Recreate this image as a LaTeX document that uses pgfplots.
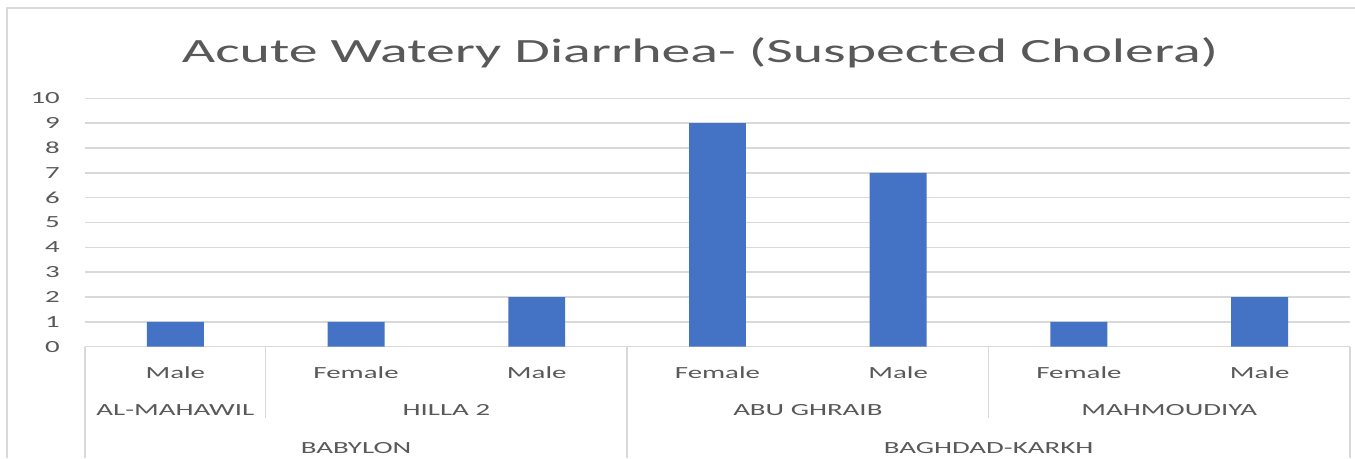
\documentclass[border=0pt]{standalone}
\usepackage{fontspec}
\setmainfont{Carlito}[FakeStretch=1.7]
\usepackage{pgfplots}
\pgfplotsset{compat=1.18}
\definecolor{txt}{HTML}{595959}
\definecolor{gridc}{HTML}{D9D9D9}
\definecolor{barc}{HTML}{4472C4}
\begin{document}
\begin{tikzpicture}
\useasboundingbox (0,0) rectangle (1355pt,458pt);
\fill[white] (0,0) rectangle (1355pt,458pt);
\draw[gridc, line width=2pt] (7pt,0) -- (7pt,450pt) -- (1355pt,450pt);
\node[anchor=base, text=txt, font=\fontsize{34}{40}\selectfont] at (700pt,395pt) {Acute Watery Diarrhea- (Suspected Cholera)};
\begin{axis}[
  at={(85pt,111.3pt)}, anchor=south west,
  scale only axis, width=1265pt, height=248.4pt,
  xmin=-0.5, xmax=6.5, ymin=0, ymax=10,
  ytick={0,1,...,10},
  xtick={0,1,...,6},
  xticklabels={Male,Female,Male,Female,Male,Female,Male},
  axis line style={draw=none},
  ymajorgrids, grid style={gridc, line width=1.5pt},
  major tick length=0pt,
  tick label style={text=txt, font=\fontsize{17}{20}\selectfont},
  /pgf/number format/assume math mode=true,
  yticklabel style={anchor=east, inner sep=0pt, xshift=-25pt},
  xticklabel style={anchor=base, inner sep=0pt, yshift=-31.3pt},
  clip=false,
  ybar, bar width=0.315,
]
\addplot[fill=barc, draw=none] coordinates {(0,1) (1,1) (2,2) (3,9) (4,7) (5,1) (6,2)};
\draw[gridc, line width=1.5pt] (axis cs:-0.5,0) -- ([yshift=-111.3pt]axis cs:-0.5,0);
\draw[gridc, line width=1.5pt] (axis cs:0.5,0) -- ([yshift=-71pt]axis cs:0.5,0);
\draw[gridc, line width=1.5pt] (axis cs:2.5,0) -- ([yshift=-111.3pt]axis cs:2.5,0);
\draw[gridc, line width=1.5pt] (axis cs:4.5,0) -- ([yshift=-71pt]axis cs:4.5,0);
\draw[gridc, line width=1.5pt] (axis cs:6.5,0) -- ([yshift=-111.3pt]axis cs:6.5,0);
\begin{scope}[every node/.style={anchor=base, text=txt, font=\fontsize{17}{20}\selectfont}]
\node[yshift=-68.3pt] at (axis cs:0,0) {AL-MAHAWIL};
\node[yshift=-68.3pt] at (axis cs:1.5,0) {HILLA 2};
\node[yshift=-68.3pt] at (axis cs:3.5,0) {ABU GHRAIB};
\node[yshift=-68.3pt] at (axis cs:5.5,0) {MAHMOUDIYA};
\node[yshift=-106.3pt] at (axis cs:1,0) {BABYLON};
\node[yshift=-106.3pt] at (axis cs:4.5,0) {BAGHDAD-KARKH};
\end{scope}
\end{axis}
\end{tikzpicture}
\end{document}
